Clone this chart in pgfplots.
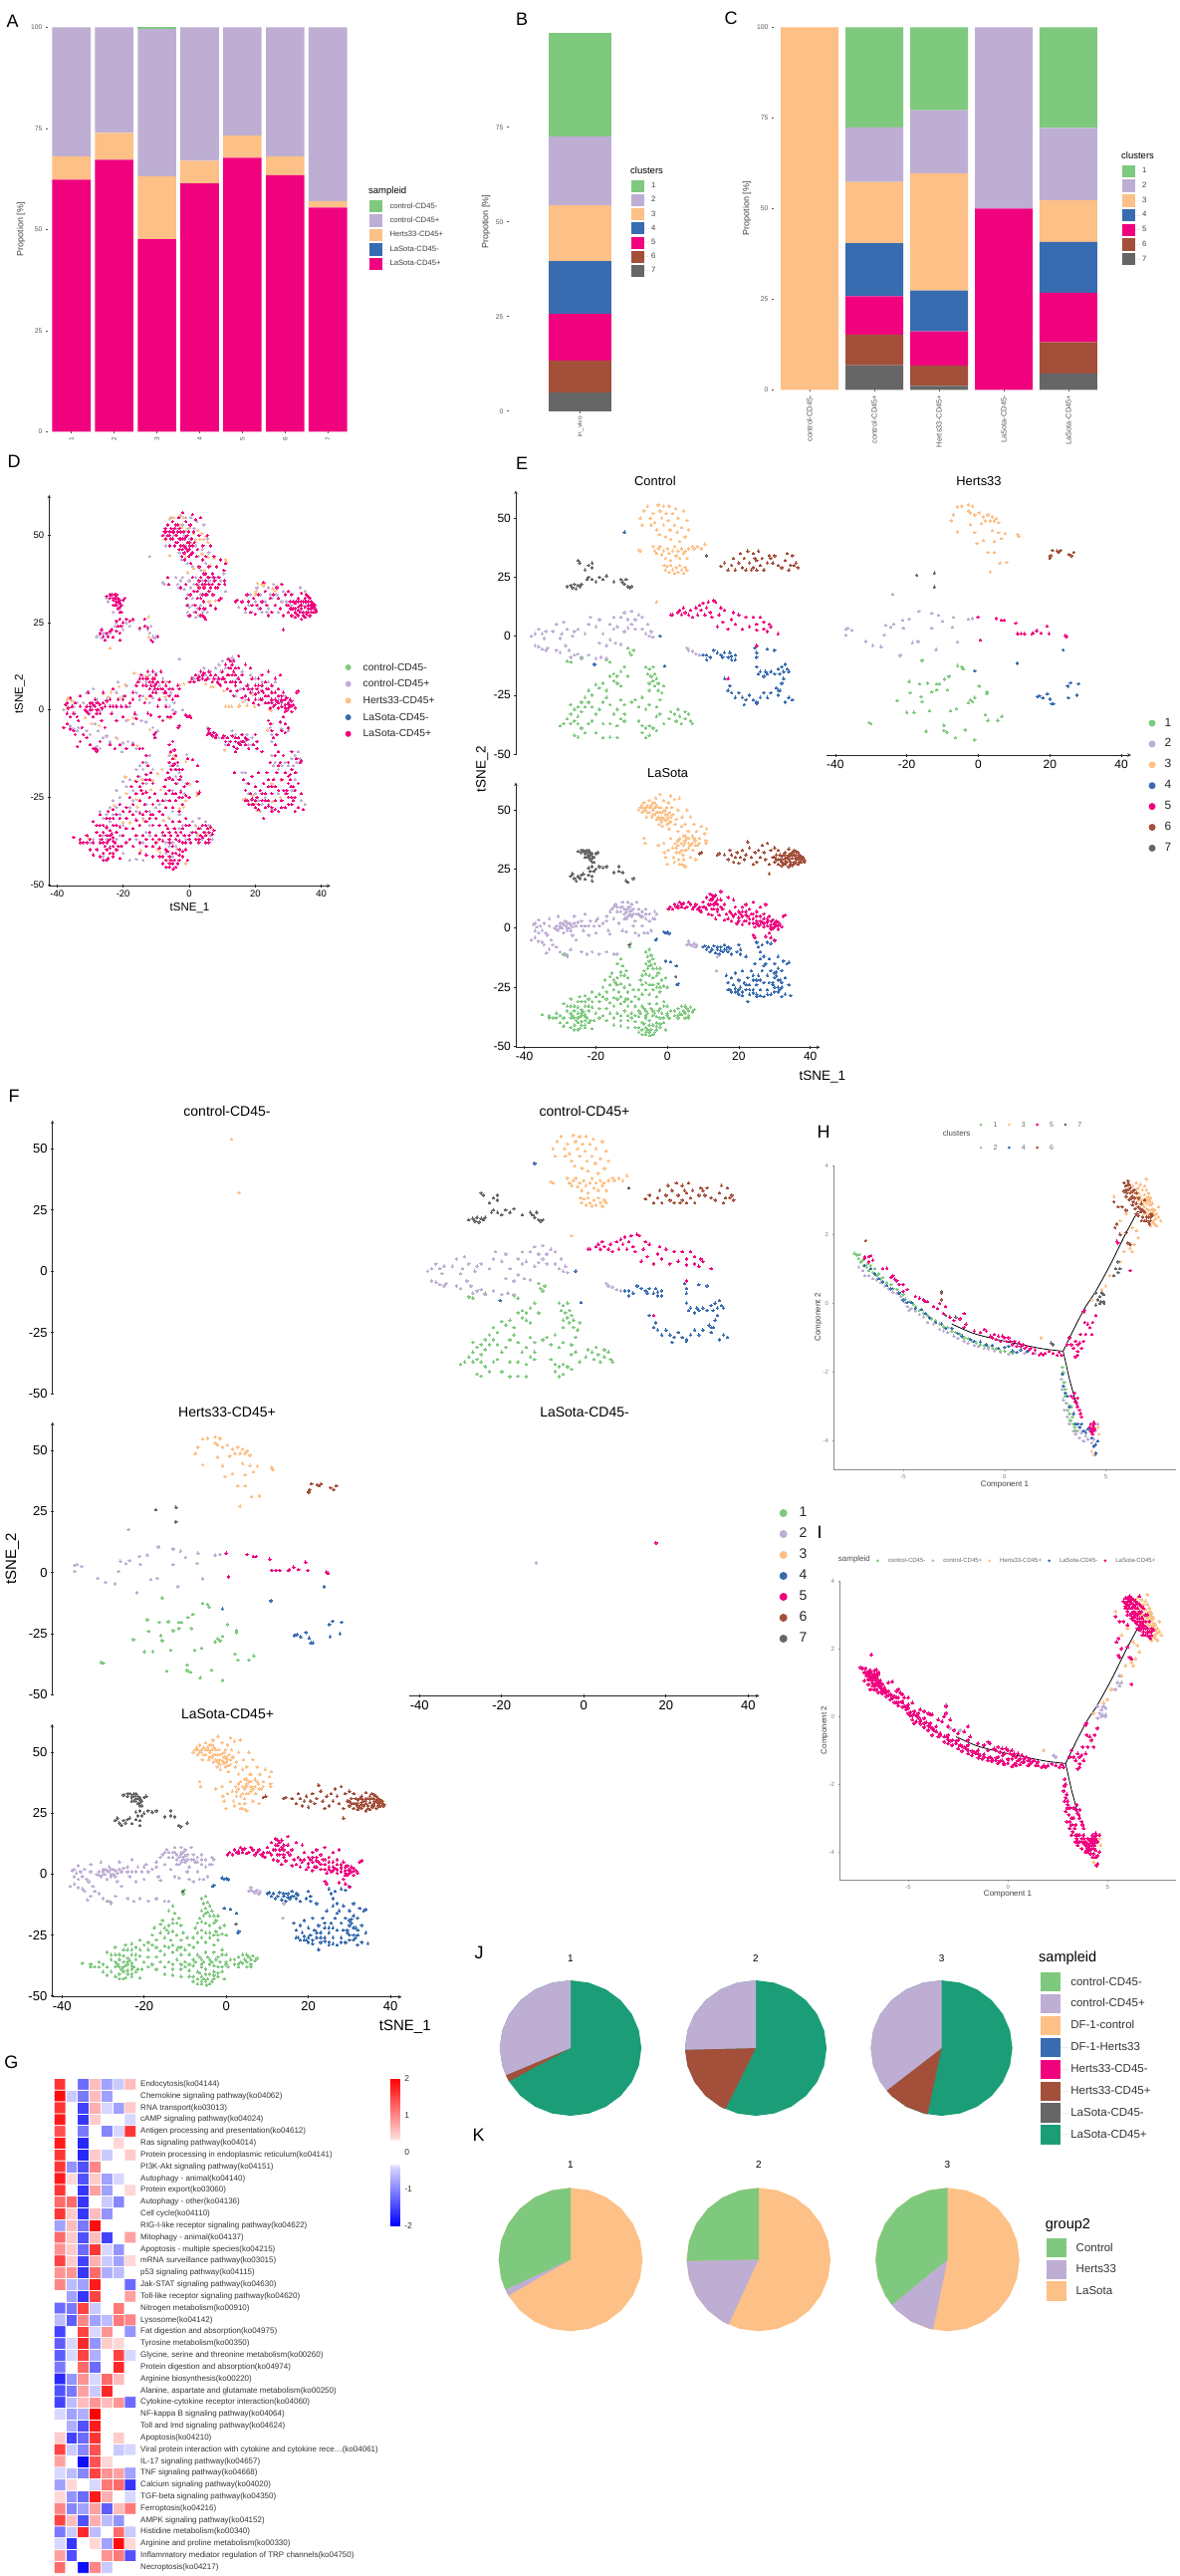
\documentclass[border=0pt]{standalone}
\usepackage{fontspec}
\setmainfont{Liberation Sans}
\usepackage{pgfplots}
\usepackage{pgfplotstable}
\pgfplotsset{compat=1.18}
\newcommand{\fs}[1]{\fontsize{#1}{#1}\selectfont}
\definecolor{c1}{HTML}{7FC97F}\definecolor{c2}{HTML}{BEAED4}\definecolor{c3}{HTML}{FDC086}
\definecolor{c4}{HTML}{386CB0}\definecolor{c5}{HTML}{F0027F}\definecolor{c6}{HTML}{A34F3A}
\definecolor{c7}{HTML}{666666}\definecolor{c8}{HTML}{1B9E77}
\pgfplotsset{
 /pgf/number format/assume math mode=true,
 pt/.style={only marks,mark=*,mark size=\msz,mark options={line width=0pt}},
 tsne/.style={scale only axis,xmin=-42.4,xmax=42.7,ymin=-50.4,ymax=61.6,anchor=north west,
  axis line style={-,line width=.6pt,black!85},tick style={black!85,line width=.6pt},tick align=outside,
  major tick length=3pt,xtick={-40,-20,0,20,40},ytick={-50,-25,0,25,50},clip=false},
 barax/.style={scale only axis,anchor=north west,ybar stacked,enlargelimits=false,ymin=0,ymax=100,
  axis line style={draw=none},tick style={gray!70!black,line width=.5pt},tick align=outside,major tick length=2pt,
  xtick pos=bottom,ytick pos=left,clip=false,
  y tick label style={font=\fs{6.8},text=black!65},
  x tick label style={font=\fs{6.5},text=black!65,rotate=90,anchor=east},
  ylabel style={font=\fs{9},text=black!75,anchor=center}},
 traj/.style={scale only axis,anchor=north west,ymin=-4.82,ymax=4,
  axis x line=bottom,axis y line=left,axis line style={-,line width=.4pt,black!45},tick style={black!40,line width=.4pt},
  tick align=outside,major tick length=1.5pt,xtick={-5,0,5},ytick={-4,-2,0,2,4},clip=false,
  tick label style={font=\fs{6},text=black!50},
  xlabel style={font=\fs{8},text=black!75,anchor=center},ylabel style={font=\fs{8},text=black!75,anchor=center}},
 pie/.style={scale only axis,hide axis,anchor=center,xmin=-1,xmax=1,ymin=-1,ymax=1,clip=false},
 leg/.style={scale only axis,hide axis,width=1pt,height=1pt,xmin=0,xmax=1,ymin=0,ymax=1,anchor=north west,clip=false,
  legend style={at={(0,1)},anchor=north west,draw=none,fill=none,inner sep=0pt,outer sep=0pt,legend cell align=left}},
 legsq/.style n args={3}{legend image code/.code={\fill[draw=none,##1] (0,-#2) rectangle (#1,#2);\path[draw=none] (0,0) -- (#3,0);}},
 legdot/.style n args={2}{legend image code/.code={\fill[draw=none,##1] (#1,0) circle (#1);\path[draw=none] (0,0) -- (#2,0);}},
}
\newcommand{\legax}[3]{\begin{axis}[leg,at={(#1pt,-#2pt)},#3]\addplot[draw=none,forget plot] coordinates {(0,0)};}
\newcommand{\li}[2]{\addlegendimage{#1}\addlegendentry{#2}}
\newcommand{\Tl}[4]{\node[anchor=west,inner sep=0pt,font=\fs{#3}] at (#1pt,-#2pt) {#4};}
\newcommand{\Tc}[4]{\node[anchor=center,inner sep=0pt,font=\fs{#3}] at (#1pt,-#2pt) {#4};}
%--- tSNE data: LaSota
\pgfplotstableread[row sep=\\]{x y\\
-6 -10\\-5.5 -12\\-5 -9\\-5 -14\\-4.5 -11.5\\-4 -13\\-6 -15\\-5.5 -17\\-5 -16\\-4.5 -15.5\\-4 -17\\-3.5 -15\\-3 -17\\-2.5 -19\\-2 -17\\-6.5 -18\\-7 -20\\-6 -19.5\\-5 -20\\-4 -21\\-3 -20\\-1.5 -22\\-.5 -21\\-7.5 -22\\-6 -23\\-5 -24\\-4 -24\\-3 -25\\-2.5 -23.5\\-1 -24.5\\0 -25\\-14 -15\\-13 -13\\-12.5 -16\\-11.5 -18\\-13 -18.5\\-12 -20\\-11 -21\\-14 -21\\-15.5 -19\\-16 -20.5\\-14.5 -23\\-13 -23.5\\-12 -25\\-10.5 -24\\-16 -24\\-17.5 -22\\-15 -26\\-13.5 -27\\-11 -27\\-9.5 -26\\-18 -25\\-17 -27\\-19 -28\\-21 -27\\-23 -28.5\\-24.5 -29\\-25 -31\\-27 -30\\-23 -31\\-21 -31\\-19 -31\\-17 -30\\-15 -29.5\\-13 -29\\-11.5 -30\\-9 -29\\-8 -30\\-7 -28\\-5 -28\\-3 -29\\-2 -27\\-1 -31\\-1 -33\\-3 -32\\-5 -32\\-7 -33\\-9 -33\\-11 -33\\-13 -32\\-15 -33\\-17 -34\\-19 -34\\-21 -33.5\\-23 -33\\-25 -33.5\\-27 -33\\-29 -32\\-28 -35\\-26 -35\\-24 -36\\-22 -35\\-20 -36\\-18 -37\\-16 -36\\-14 -36\\-12 -35\\-10 -36\\-8 -35\\-6 -35\\-4 -35\\-2 -34\\0 -33\\1 -35\\3 -34\\5 -33\\6 -35\\7.5 -34.5\\4 -36.5\\2 -37\\0 -37\\-2 -38\\-4 -37\\-6 -38\\-8 -37.5\\-10 -38\\-35 -36.5\\-33 -37\\-31 -36\\-29 -38\\-31 -38\\-33 -38\\-27 -38\\-25 -38\\-23 -37.5\\-30 -40\\-28 -40\\-26 -41\\-24 -41\\-27 -42\\-25 -43\\-23 -42\\-21 -42.5\\-29 -41.5\\-15 -41\\-13 -41.5\\-11 -42\\-9 -42\\-7 -43\\-5 -44\\-4 -45\\-6 -45\\-8 -44\\-3 -43\\-2 -42\\-1 -40\\-3 -40\\-5 -41\\-7 -40\\-9 -39.5\\-11 -39\\-13 -39\\-.5 -43\\-29 -11\\-28 -11.5\\-10.5 -8\\-10.2 -6.5\\-6 -37\\-5 -39\\-4 -41\\-6 -42\\-3 -37.5\\-24 -37\\-26 -38\\-24 -34.5\\-25 -40\\-23 -39\\5 -38\\6 -37\\3 -38\\-25 -36\\-24.5 -37.5\\-23.5 -35.5\\-23 -36.5\\-22.5 -38\\-22 -40\\-24 -39.5\\-25.5 -39\\-26.5 -37\\-21.5 -39\\-20.5 -39\\-23 -41\\-24.5 -42.5\\-26 -43\\-4.5 -43\\-5.5 -43\\-6 -44\\-4.8 -45.5\\-3.5 -44\\-7 -45\\-3 -41.5\\-2 -40.5\\-1 -38\\-8 -42\\-6.5 -40.5\\-1.5 -36\\-2.5 -35\\-3.5 -36\\-4.5 -34\\-5.5 -36\\-6.5 -34\\-7.5 -36\\0 -36\\.5 -38\\5.5 -34\\6.5 -33.5\\5 -36\\4.5 -35\\3.5 -36\\3 -37\\4 -33\\2 -35\\7 -35.5\\6 -38\\-11 -30\\-10 -31\\-12 -31\\-14 -30\\-16 -31.5\\-18 -29\\-20 -29\\-22 -30\\-22 -33\\-24 -31\\-26 -33\\-28 -33\\-30 -37\\-32 -38\\-27 -36\\-8 -26\\-7 -24\\-6 -26\\-4 -26\\-2 -25\\-13 -20\\-14 -24\\-15 -22\\-9 -37\\-11 -37\\-13 -37\\-15 -38\\-17 -39\\-19 -38\\
}\La
\pgfplotstableread[row sep=\\]{x y\\
-38 -5\\-37 -4\\-36 -5.5\\-35 -6\\-34.5 -7\\-37.5 1.5\\-37 2\\-36.5 .5\\-36 3.5\\-35.5 1\\-35 -1\\-34.5 2\\-34 -2\\-33.8 -10.5\\-33.5 -3\\-33 4\\-33 -9\\-32.5 -5\\-32 -7\\-31.5 0\\-31 1\\-31 -8\\-30.5 -1\\-30.5 5\\-30 2\\-30 -10\\-29.5 0\\-29 1.5\\-29 -2\\-28.5 3\\-28.5 -11\\-28 0\\-28 -12\\-27.5 2\\-27 -1\\-27 -9\\-26.5 -3\\-26 2\\-26 5\\-25.5 -5\\-25 2.5\\-24 3\\-24 -10\\-23.5 -1\\-23 1\\-23 6\\-22.5 -11\\-22 -3\\-21.5 3\\-21 -10\\-20.5 1\\-20 -2\\-19.5 4\\-19 -11\\-18 2\\-17 -10\\-17 5\\-16.5 -1\\-16 -2.5\\-15.5 8\\-15 4\\-15 -11\\-14.5 10\\-14 -11\\-14 7\\-13.5 2\\-13 9\\-12.5 -1\\-12.5 11\\-12 6\\-11.5 -1.5\\-11.5 4\\-11 9\\-11 11\\-10.5 7\\-10 5\\-10 10\\-9.5 8\\-9.5 1\\-9 3\\-9 -2\\-8.5 11\\-8 8\\-8 -3\\-7.5 5\\-7 7\\-7 1\\-6.5 -2\\-6 4\\-6 8\\-5.5 -2\\-5 6\\-5 3\\-4.5 -1\\-4 4\\-3.5 7\\-3.5 4\\-3 6\\5.5 -7\\6 -5.5\\6.5 -7\\7 -7.5\\7.5 -6.5\\8 -8\\8.2 -7.2\\6 -6.5\\13.8 -18\\14 -12\\-30 0\\-29.5 2\\-28.5 1\\-28 2\\-27.5 0\\-27 1.5\\-28 -1\\-26.5 .5\\-25.5 1\\-30 1\\-31 -.5\\-33 1\\-12 8\\-11.5 7\\-11 8\\-10.5 9\\-10 7.5\\-9.5 6\\-10.5 6\\-12.5 9\\-13 7\\-11 5\\-14 9\\-15 9\\-8.5 6\\-8 6\\-37 -1\\-36 -2\\-24 1\\-22 1\\-20 3\\-19 1\\-17 3\\-7 5\\-6 6\\-16 7\\-12 4\\
}\Lb
\pgfplotstableread[row sep=\\]{x y\\
-8 50\\-7.5 51\\-7 49\\-7.2 52\\-6.5 53\\-6 50\\-5.8 47\\-5.5 52\\-5 54\\-5 49\\-4.6 51\\-4.3 47\\-4 53\\-3.8 50\\-3.5 48\\-3.2 55\\-3 52\\-3 46\\-2.6 49\\-2.2 44\\-2 56.5\\-1.8 51\\-1.6 47\\-1.4 43\\-1 54\\-1 49.5\\-.7 46\\-.5 48\\-.2 51\\-.1 44\\.2 47\\.3 53\\.5 42\\.7 49\\1 45\\1 56\\1.3 51\\1.6 48\\2 54.5\\2.2 44\\2.5 46\\3 50\\3 41\\3.4 55\\4 43\\4.2 47\\4.5 39\\5 44\\5.5 50\\5.8 41\\6 36\\6.5 47\\7 39\\7.5 44\\7.8 37\\8.2 41\\8.5 35\\9 38\\9.5 43\\10.5 40\\11 42\\10.8 37\\10.8 36\\-6.5 38\\-6.2 36\\-2.5 35\\-1 36\\-.8 32\\-.5 30\\0 27\\.3 33\\1 38\\1.5 34\\1.8 30\\2 28\\2.3 36\\2.5 32\\3 35\\3.2 29\\3.5 38\\4 33\\4 27\\4.4 31\\4.8 36\\5 26\\5.3 33\\5.6 38\\6 34\\6.5 30\\7.2 33\\8 29\\-6 51\\-5.5 49\\-5 51\\-4.5 52\\-4 50\\-4 48\\-3.5 51\\-3 49\\-2.5 51\\-2.5 47\\-2 49\\-2 46\\-1.5 49\\-1.5 45\\-1 46.5\\-.5 45.5\\-.5 50\\0 48\\0 46\\.5 44.5\\1 47\\-3.5 53\\-6.5 50\\-7 51\\4.5 35\\5 33\\4 36\\4.5 29\\5 37\\6 38\\6.5 35\\7 36\\3.5 32\\3 37\\2.5 34\\3.5 27\\4.6 26.5\\8 35\\7.5 38\\9 36\\6 41\\5 39\\
}\Lc
\pgfplotstableread[row sep=\\]{x y\\
10 -8\\10.5 -7.5\\11 -9\\11.5 -8\\12 -10\\12.5 -9\\13 -7.5\\13.5 -10.5\\14 -9\\14.5 -11\\15 -8\\15.5 -10\\16 -7\\16.5 -9\\17 -10\\17.5 -8.5\\18 -11\\19.5 -10\\20 -7\\20.5 -9\\20.5 -11\\22 -12\\-1 -1.5\\-.5 -2\\0 -1.8\\.5 -2.2\\-3 -4.5\\-3.3 -5\\-.5 -14\\1 -14.3\\2.5 -16\\2.8 -24\\3.1 -23.5\\25 -6\\25.5 -8\\26 -10\\26.5 -7\\27 -12\\28 -6\\29 -6.5\\30 -5\\19 -25.5\\20 -28\\16.5 -20\\17 -23\\17.5 -26\\18 -21\\18.5 -24\\19 -19\\19.5 -27\\20 -22\\20.5 -25\\21 -18\\21 -28.5\\21.5 -23\\22 -26\\22.5 -21\\22.5 -31\\23 -24\\23 -28\\23.5 -18\\24 -22\\24 -26\\24.5 -15\\25 -24\\25 -28\\25.5 -20\\26 -26\\26 -13\\26.5 -18\\27 -23\\27 -29\\27.5 -15\\28 -20\\28 -26\\28.5 -13\\29 -18\\29 -28\\29.5 -23\\30 -15\\30 -25\\30.5 -20\\31 -27\\31 -12\\31.5 -22\\32 -18\\32 -25\\32.5 -14\\33 -21\\33 -28\\33.5 -15\\34 -24\\34.5 -28.5\\34 -14.5\\32 -29\\25 -29\\30 -19\\27 -16\\17 -26\\18 -27\\19 -27\\20 -26\\21 -27\\22 -24\\23 -26\\24 -27.5\\26 -28.5\\28 -28\\30 -27\\31 -25\\31.5 -26\\32 -23\\31 -22\\30 -21\\29.5 -24\\28.5 -23\\31 -17\\30.5 -18.5\\15 -9.5\\16 -9\\14 -8\\17 -8\\26 -22\\25 -22\\24 -20\\
}\Ld
\pgfplotstableread[row sep=\\]{x y\\
.3 8\\.8 9\\1.5 8\\2 10\\3 9.5\\3.5 11\\4 9\\4.5 10.5\\5 8.5\\5.5 9\\6 11\\6.5 10\\7 8\\7.5 9\\8 10\\8.5 8\\9 9\\9.5 7\\10 11\\10.5 9\\11 8\\11 13\\11.5 6\\12 14.5\\12 10\\12.5 5.5\\12.5 12\\13 8\\13.5 14\\13.5 4\\14 7\\14 10\\14.5 5.5\\15 15.5\\15 12\\15.5 8\\16 3.5\\16 10\\16.5 6\\17 13\\17 4\\17.5 7\\18 3\\18.5 12\\18.5 5\\19 9\\19.5 2\\20 7\\20 4.5\\20.5 6\\21 1.5\\21 9\\21.5 3\\22 7\\22 10\\22.5 5\\23 2\\23 8\\23.5 6\\24 4\\24 11\\24.5 .5\\25 7\\25 3\\25.5 1\\26 5\\26 9\\26.5 2.5\\27 .5\\27 6\\27.5 10\\28 3\\28 1\\28.5 5\\29 1.5\\29 -.5\\29.5 3.5\\30 2\\30 .5\\30.5 1\\31 2.5\\31 -.5\\31.5 1.5\\32 .5\\32.5 5\\33 5.5\\24 -3\\24.5 -4\\27.5 -3.5\\28.5 -2\\29 -4\\30 -5.2\\12.5 14\\13 13\\13.5 11\\12 12\\11.5 10\\12.5 8\\13 10\\14 12\\15 9\\25 2\\26 3\\27 2\\28 2.5\\29 3\\30 1.5\\31 1.2\\30.5 3\\29.5 -.2\\29 .5\\28 4\\27 4\\26 1.5\\24 2\\23 4\\22 3\\21 5\\20 3\\21 7\\19 6\\18 6\\22 5.5\\24 6\\25 5\\14 8\\10 9\\9 7.5\\4 10\\3 8.5\\2.5 9\\
}\Le
\pgfplotstableread[row sep=\\]{x y\\
14 31\\14.5 31.5\\16 31\\17 29\\17.5 33\\18 31\\18.5 28\\19 30\\19.5 32\\20 27.5\\20.5 30\\21 33\\21.5 29\\22 31\\22.5 36.5\\23 34\\23.5 30\\24 27\\24.5 32\\25 28\\25.5 33\\26 30\\26.5 35\\27 32\\27.5 29\\28 36\\28.5 27\\28.5 23\\29 33\\29.5 30\\30 28\\30 34\\30.5 31\\31 27\\31 33\\31.5 29\\32 30.5\\32.5 27.5\\33 32\\33 28.5\\33.5 30\\34 26\\34 33.5\\34.5 28\\34.5 31\\35 29.5\\35 26.5\\35.5 33\\35.5 31\\36 28\\36 30\\36.5 27\\36.5 32\\37 29\\37 31\\37.5 28\\37.5 30.5\\38 29\\38.3 28\\33 29.5\\32 26.5\\36 32.5\\9 31.5\\9.6 32\\31 29\\32 28\\33 27\\34 29\\35 31\\36 29\\37 28\\37.5 29.5\\36.5 30\\35.5 28\\34.5 27\\33.5 28\\32.5 31\\31.5 31\\30.5 29\\35 32\\34 31\\36 31\\38 30\\37 30\\33 31\\32 29\\30 30\\38.5 28.5\\34 30\\35.5 27.5\\
}\Lf
\pgfplotstableread[row sep=\\]{x y\\
-26.5 23\\-27 22\\-26 21\\-25.5 20\\-25 22\\-24.5 21\\-24 22.5\\-23.5 23\\-23 20.8\\-25 32.5\\-24 32\\-23.5 33\\-23 31.5\\-22.5 30\\-22 33\\-22 31\\-21.5 32\\-21 30.5\\-21.5 29\\-20.5 28\\-20 31.5\\-19.5 32\\-21 28\\-21 26\\-22 25.5\\-21.5 24\\-20.5 24\\-20 25\\-19 26\\-18 25.5\\-17 26\\-21 22\\-22 22.5\\-21 20\\-15 23.5\\-13.5 24\\-13.5 26\\-12.5 23.5\\-11.5 20\\-11 19.5\\-9.5 21\\2.4 -20.5\\-10.6 -7\\-23 32\\-22.5 32\\-22 32\\-21.5 31\\-21 31.5\\-23 30\\-22 30\\-21 29.5\\-20.5 30\\-24 33\\-22.5 33\\
}\Lg
%--- tSNE data: control
\pgfplotstableread[row sep=\\]{x y\\
-10 -8\\-10.5 -7\\-11 -5\\-9.5 -6\\-17 -10\\-16 -11\\-27 -11\\-28 -10.5\\-24 -9\\-6 -13\\-5.5 -16\\-5 -14\\-4.5 -17\\-4 -13\\-4 -19\\-3.5 -16\\-3 -18\\-3.5 -21\\-2.5 -20\\-2.5 -23\\-5 -20\\-5 -23\\-1.5 -24\\-1 -21\\-12 -13\\-13 -15\\-14 -17\\-15 -19\\-16 -17\\-14 -20\\-11 -17\\-13 -21\\-15 -16\\-18 -20\\-19 -22\\-17 -23\\-20 -20.5\\-22 -23\\-21 -25\\-22 -28\\-21 -30\\-23 -26\\-23 -30\\-24 -28\\-24 -32\\-25 -30\\-25 -34\\-26 -31\\-26 -36\\-27 -33\\-27 -29\\-28 -35\\-25 -37\\-24 -39\\-27 -37\\-29 -37\\-30 -38\\-23 -41\\-26 -42\\-25 -42.8\\-22 -37\\-21 -36\\-20 -33\\-19 -31\\-18 -28\\-17 -26\\-16 -29\\-15 -33\\-14 -31\\-13 -27\\-12 -29\\-18 -37\\-16 -37\\-14 -38\\-13 -35\\-12 -33\\-20 -41\\-18 -43\\-16 -42.8\\-14 -43\\-12 -36\\-10 -28\\-9 -27\\-8 -30\\-7 -26\\-6 -31\\-5 -29\\-8 -36\\-6 -39\\-7 -38\\-5 -38\\-4 -39\\-7 -41\\-5 -42\\-6 -43\\-3 -40\\-3 -34\\-1 -37\\-2 -33\\.5 -35\\1 -32\\2 -33\\2.5 -36\\3 -31\\3.5 -34\\4 -37\\5 -32\\5 -35\\6 -33\\6.5 -36\\7 -37\\-2 -27\\-3 -30\\
}\Ca
\pgfplotstableread[row sep=\\]{x y\\
-38 0\\-37 1\\-36 3\\-35 1\\-34.5 -1\\-34 2\\-33.5 -5\\-37 -4\\-36 -4.5\\-35 -5.5\\-34 -6\\-31 -6\\-32 2\\-31 5\\-30 -1\\-30 -7\\-29.5 1\\-29 6\\-28.5 -4\\-28 3\\-27.5 -6\\-27 -9\\-26.5 0\\-26 2\\-26 -8\\-25 -7.5\\-25 3\\-24 -9.5\\-23 1\\-22 5\\-22 -8\\-21.5 8\\-20 4\\-20 -9.5\\-19 7\\-19 -3\\-18.5 -9\\-18 1\\-17 -4\\-17 -9.5\\-16 5\\-16 -1.5\\-15 8\\-15 3\\-14.5 -3\\-14 4\\-13 -3.5\\-13 8\\-12 2\\-12 10\\-11 3.5\\-11 7\\-10 5\\-10 10.5\\-9 3\\-9 7\\-8 9\\-7 3\\-7 8\\-6 1\\-5.5 5\\-5 0\\-4.5 2\\-4 -.5\\5.5 -5\\6 -6\\7 -6.5\\8 -7.5\\9 -8\\
}\Cb
\pgfplotstableread[row sep=\\]{x y\\
-7.5 50\\-7 47\\-6.5 53\\-5.5 55\\-4.7 50\\-4.5 47\\-4 52\\-3.5 48\\-3 45\\-2.5 55.5\\-2 53\\-2.2 43\\-1.5 50\\-1 47\\-1 55\\-.5 42\\-.3 52\\.3 49\\.5 55\\.8 45\\1 41\\1.5 52\\2 47\\2.3 54\\2.8 44\\3 50\\3.5 40\\4 46\\4.5 53\\5 42\\5.5 49\\6 45\\7 38\\7.5 37\\8.5 38\\9.5 37\\10.5 39\\-8 36.5\\-7.5 36\\-4 38\\-3.5 36\\-3 35\\-2.5 37\\-2 38\\-1.5 34.5\\-1 36\\-.5 33\\0 37\\.5 35\\1 32\\1.5 36\\2 38\\2.5 34\\3 36\\3.5 33\\4 37\\4.5 35\\5 36\\5.5 33\\6 37\\-.8 30\\-.5 28\\0 29.5\\.5 27\\1 30\\1.5 28\\2 26.5\\2.5 29\\3 27\\3.5 30\\4 28\\4.5 26.5\\5 29\\5.5 28\\-3 14.5\\
}\Cc
\pgfplotstableread[row sep=\\]{x y\\
-12 44\\-2 0\\-20.4 -12\\-.7 -12.7\\10 -8\\11 -8\\11 -10\\12 -9\\13 -6\\14 -7\\15 -8\\15.5 -9\\16 -7\\17 -9\\17.5 -7\\18 -8.5\\18 -10\\19 -8\\19 -10\\24.5 -5\\25 -7\\25 -9\\28 -5.5\\30 -6\\25 -13\\25.5 -16\\26 -15\\27 -17\\27.5 -15\\28 -16\\29 -15\\30 -16\\31 -14\\31.5 -16\\32 -13\\32.5 -15\\33 -12\\33.5 -14\\34 -15\\32.5 -18\\32 -20\\31.5 -23\\31 -25\\30.5 -22\\16 -18\\17 -23\\17.5 -21\\19 -26\\20 -24\\21 -26\\21.5 -29\\22 -27\\23 -25\\24 -27\\25 -28\\26 -26\\27 -24\\28 -26\\29 -24\\31 -23\\34 -26\\35 -27\\33 -28\\18 -24\\25 -28.5\\
}\Cd
\pgfplotstableread[row sep=\\]{x y\\
1 9\\1.5 9\\3 10\\3.5 11\\4 9\\4.5 12\\5 10\\6 9\\6.5 11\\7 8\\8 12\\8.5 9\\9 13\\9.5 11\\10 14\\10.5 9\\11 12\\11.5 14.5\\12 10\\12.5 8\\13 15\\13.5 14.5\\14 4\\14.5 9\\15 12\\15.5 6\\16 11\\17 3\\18 7\\18.5 10\\19 5\\20 9\\21 3\\22 8\\23 4\\24 8\\25 5\\25 2.5\\26 8\\27 6\\27 3\\28 2\\28.5 5\\29 4\\31 1\\25 -4\\17 -18\\
}\Ce
\pgfplotstableread[row sep=\\]{x y\\
15 29.5\\16 31\\17 28\\18 30\\18.5 33\\19 28\\20 31\\20.5 35\\21 29\\21.5 33\\22 28\\22.5 36\\23 31\\23.5 28\\24 35\\24 29\\24.5 33\\25 28\\25 32\\25.5 36\\26 30\\26.5 33\\27 28\\28 31\\28.5 34\\29 33\\29.5 31\\30 34\\31 30\\32 29\\33 32\\33.5 35\\34 28\\34.5 30\\35 34\\35.5 30\\36 31\\36.5 29\\
}\Cf
\pgfplotstableread[row sep=\\]{x y\\
-28 21\\-27 21.5\\-26.5 20.5\\-26 22\\-25.5 20\\-25 21.5\\-24.5 21\\-24 22\\-24.5 31\\-25 32\\-23 28\\-22 30\\-21 31\\-21 29\\-22.5 24\\-22 25\\-21 24\\-20 23\\-19 25\\-18 24\\-17 25.5\\-15 23\\-13 24\\-12.5 23\\-12 22\\-11.5 24\\-11 21\\-10.5 20.5\\-10 21\\11 34\\
}\Cg
%--- tSNE data: Herts33
\pgfplotstableread[row sep=\\]{x y\\
-15.7 -10.3\\-5.8 -12.5\\-4.6 -13\\-4.3 -14\\-8.2 -17\\-9.4 -18.3\\-19.3 -19.2\\-16.4 -20.3\\-14.2 -20\\-11.6 -20.3\\-10.9 -20.3\\-8.6 -22.8\\-11.6 -22.8\\-13 -23.7\\-19 -24\\-16 -25.7\\-22.7 -27.3\\-15.7 -27.8\\-2.2 -27\\-1 -26\\-1.6 -27.8\\-2.8 -28.3\\.2 -21.2\\2.4 -24.5\\2.4 -23.7\\-30.5 -36.7\\-30 -37\\-20 -32.3\\-18 -32.3\\-13.6 -31.7\\-7.8 -31.7\\-6.1 -30.8\\2 -33.3\\2.7 -35.7\\5.4 -35.7\\6.6 -34\\-14.6 -40.3\\-9.6 -37.8\\-9.6 -40\\-8.8 -40.7\\-6.4 -43\\-3.7 -39.8\\-1 -44\\
}\Ha
\pgfplotstableread[row sep=\\]{x y\\
-37 3\\-36.5 3.3\\-35.3 2.5\\-37 .5\\-31.4 -2.3\\-29.5 -4\\-27.2 -4.5\\-26.3 .5\\-25.9 4.7\\-24.5 3.8\\-23.6 5\\-21.2 6.7\\-19.3 7.2\\-16.6 10.5\\-13 9.7\\-11.2 8.8\\-10 6.3\\-7 8\\-7.2 3.8\\-2.8 7.2\\-1.6 7.5\\-13 3.3\\-21 3.3\\-18.4 -2.8\\-16.9 -2.3\\-11.8 -5.7\\-5.8 -2.5\\-21.8 -8.2\\-23.9 17.7\\
}\Hb
\pgfplotstableread[row sep=\\]{x y\\
-7.6 48.8\\-7 51.3\\-5.8 54.7\\-4.6 55\\-2.8 55.5\\-1.6 55\\-2.8 53\\-2.2 52.2\\-1 51.3\\.2 52.2\\1.4 50.5\\2.7 51.3\\3.9 50.5\\5 49.7\\5.7 48\\4.5 48.8\\3.3 48.8\\2 48.8\\-5.8 44.2\\-2.2 47.2\\-1 43.8\\.8 47.7\\3.9 44.7\\5.7 43.8\\7.5 43.5\\6.5 41.3\\11 43\\11.3 42.2\\-.4 39.3\\1.4 40.5\\4.5 40\\2.7 35.5\\4.5 35.5\\6 31\\8 31.3\\3.3 27.2\\
}\Hc
\pgfplotstableread[row sep=\\]{x y\\
-1 -14.8\\10.8 -11.5\\23.7 -5.8\\16.5 -25.7\\17.1 -25.3\\18 -26.2\\19.3 -24.5\\20.1 -26.7\\21 -28.7\\20.5 -28.7\\25 -21.2\\25.8 -19.8\\28 -20.3\\25.2 -26.2\\27.6 -25\\
}\Hd
\pgfplotstableread[row sep=\\]{x y\\
-.1 8\\.5 -1.7\\5 7.5\\6.5 6.7\\7.2 6.7\\10.5 5.5\\11 1\\12 1\\12.9 1\\15 1\\15.3 1.3\\16.3 2.3\\17.5 1.3\\19.2 4.3\\19.8 1\\24.3 .2\\24.7 -.2\\
}\He
\pgfplotstableread[row sep=\\]{x y\\
20 33\\20.2 34\\20.7 36.3\\22 36\\23 36.3\\22.5 35.5\\25.3 34.7\\26 34\\26.7 35.5\\20 33.3\\
}\Hf
\pgfplotstableread[row sep=\\]{x y\\
-17.2 25.8\\-12.3 26.7\\-12.3 20.8\\
}\Hg
\newcommand{\setC}[7]{\addplot[pt,#1]table{\Ca};\addplot[pt,#2]table{\Cb};\addplot[pt,#3]table{\Cc};\addplot[pt,#4]table{\Cd};\addplot[pt,#5]table{\Ce};\addplot[pt,#6]table{\Cf};\addplot[pt,#7]table{\Cg};}
\newcommand{\setH}[7]{\addplot[pt,#1]table{\Ha};\addplot[pt,#2]table{\Hb};\addplot[pt,#3]table{\Hc};\addplot[pt,#4]table{\Hd};\addplot[pt,#5]table{\He};\addplot[pt,#6]table{\Hf};\addplot[pt,#7]table{\Hg};}
\newcommand{\setL}[7]{\addplot[pt,#1]table{\La};\addplot[pt,#2]table{\Lb};\addplot[pt,#3]table{\Lc};\addplot[pt,#4]table{\Ld};\addplot[pt,#5]table{\Le};\addplot[pt,#6]table{\Lf};\addplot[pt,#7]table{\Lg};}
\newcommand{\kols}{{c1}{c2}{c3}{c4}{c5}{c6}{c7}}
%--- pseudotime
\pgfplotstableread[row sep=\\]{x y\\
-7.4 1.45\\-7.3 1.4\\-7.2 1.3\\-7.15 1.42\\-7.1 1.2\\-7 1.25\\-6.95 1.1\\-6.9 1.32\\-6.8 1.05\\-6.75 1.15\\-6.7 .95\\-6.6 1.1\\-6.5 .9\\-6.4 1\\-6.3 .8\\-6.2 .85\\-6.1 .7\\-6 .75\\-5.8 .6\\-5.6 .55\\-5.5 .42\\-5.3 .4\\-5.2 .3\\-5 .25\\-4.9 .12\\-4.7 .05\\-4.5 -.02\\-4.4 -.1\\-4.2 -.2\\-4 -.28\\-3.8 -.35\\-3.6 -.45\\-3.4 -.5\\-3.2 -.6\\-3 -.68\\-2.8 -.7\\-2.6 -.8\\-2.4 -.85\\-2.2 -.9\\-2 -1\\-1.8 -1.02\\-1.6 -1.1\\-1.4 -1.15\\-1.2 -1.2\\-1 -1.22\\-.8 -1.25\\-.6 -1.3\\-.4 -1.32\\-.2 -1.38\\0 -1.38\\.3 -1.42\\.4 -1.45\\2.85 -1.85\\2.9 -2\\2.95 -2.3\\3 -2.5\\3 -2.7\\3.05 -2.9\\3.1 -3.1\\3.2 -3.2\\3.25 -3.4\\3.3 -3\\3.35 -3.3\\3.4 -3.5\\3.45 -3.6\\3.5 -3.7\\
}\Pa
\pgfplotstableread[row sep=\\]{x y\\
-7.2 1.05\\-7 .95\\-6.9 .8\\-6.7 .8\\-6.5 .72\\-6.3 .68\\-6.1 .6\\-5.9 .5\\-5.7 .42\\-5.5 .32\\-5.3 .28\\-5.1 .2\\-4.9 .02\\-4.8 -.1\\-4.7 -.2\\-4.6 -.15\\-4.4 -.22\\-4.2 -.32\\-4 -.4\\-3.8 -.55\\-3.5 -.6\\-3.2 -.75\\-3 -.8\\-2.8 -.85\\-2.5 -.95\\-2.3 -1.02\\-2 -1.1\\-1.8 -1.15\\-1.5 -1.22\\-1.3 -1.25\\-1 -1.3\\-.8 -1.32\\-.5 -1.38\\-.2 -1.42\\.2 -1.48\\1 -1.45\\1.5 -1.45\\2.8 -2.2\\2.85 -2.5\\2.9 -2.8\\2.95 -3.1\\3.1 -3.3\\3.2 -3.5\\3.4 -3.7\\3.5 -3.8\\3.6 -3.7\\3.7 -3.9\\3.8 -3.75\\3.9 -4\\4 -3.85\\4.1 -3.95\\4.2 -3.6\\4.3 -3.8\\4.4 -3.95\\4.5 -3.7\\4.6 -3.5\\4.3 -4.05\\4.2 -3.7\\
}\Pb
\pgfplotstableread[row sep=\\]{x y\\
-6.9 1.1\\-6.6 1\\-6.4 .85\\-6.2 .72\\-6 .62\\-5.8 .52\\-5.6 .42\\-5.2 .3\\-5 .1\\-4.8 .02\\-4.6 .02\\-4.4 -.15\\-4.1 -.18\\-3.9 -.3\\-3.7 -.42\\-3.4 -.55\\-3.1 -.6\\-2.9 -.72\\-2.6 -.72\\-2.3 -.88\\-2.1 -.95\\-1.7 -1.05\\-1.5 -1.1\\-1.2 -1.12\\-.9 -1.2\\-.6 -1.22\\-.3 -1.3\\0 -1.28\\.2 -1.25\\.4 -1.38\\.6 -1.42\\.8 -1.35\\1.1 -1.4\\2.85 -2.05\\2.9 -2.4\\3 -2.6\\3.1 -2.7\\3.2 -3\\3.4 -3.2\\3.5 -3.5\\3.6 -3.5\\3.7 -3.6\\3.8 -3.5\\3.9 -3.7\\4 -3.75\\4.1 -3.65\\4.3 -3.9\\4.4 -3.7\\4.4 -4.15\\4.5 -4.1\\4.5 -4.35\\4.45 -4.4\\4.6 -4\\
}\Pd
\pgfplotstableread[row sep=\\]{x y\\
-6.9 1.3\\-6.7 1.2\\-6.5 1.25\\-6.7 1.35\\-6.9 1.35\\-6.6 1.38\\-6 1\\-5.8 1.02\\-5.6 .75\\-5.5 .8\\-5.4 .7\\-5.3 .65\\-5.2 .55\\-5 .55\\-5 .35\\-4.8 .4\\-4.4 .2\\-4.2 .15\\-4 .1\\-3.9 .05\\-3.8 .05\\-3.5 -.1\\-3.3 -.15\\-3.2 0\\-3 -.3\\-2.9 -.1\\-2.7 -.4\\-2.5 -.5\\-2.2 -.45\\-2 -.3\\-2 -.7\\-1.9 -.6\\-1.5 -.8\\-1.2 -.85\\-1 -.75\\-.9 -.8\\-.7 -.95\\-.6 -1\\-.5 -.9\\-.4 -1.05\\-.3 -.95\\-.2 -1.1\\-.1 -.95\\0 -1\\.1 -1.1\\.2 -1\\.3 -1.1\\.4 -1.2\\.5 -1.1\\.6 -1.25\\.7 -1.15\\.8 -1.25\\.9 -1.2\\1 -1.3\\1.1 -1.25\\1.2 -1.35\\1.3 -1.3\\1.4 -1.45\\1.5 -1.35\\1.7 -1.5\\1.8 -1.45\\1.9 -1.5\\2 -1.45\\2.2 -1.4\\2.4 -1.45\\2.6 -1.5\\2.7 -1.42\\2.8 -1.5\\3.1 -1.2\\3.2 -1\\3.3 -1.2\\3.4 -1.3\\3.5 -1.1\\3.6 -1.2\\3.6 -1.4\\3.6 -1.5\\3.5 -1.55\\3.7 -1.15\\3.75 -.9\\3.8 -1.3\\3.9 -1.1\\4 -.9\\4.1 -.6\\4.2 -.7\\4.3 -.9\\4.35 -.55\\3.95 -.55\\3.9 -.25\\4.5 -.35\\3.95 -.2\\5.55 1.8\\5.6 1.75\\6.2 .95\\3.3 -2.7\\3.4 -2.75\\3.45 -2.6\\3.5 -2.85\\3.55 -2.9\\3.6 -3\\3.7 -3.1\\3.75 -3.2\\3.8 -3.3\\3.6 -2.75\\4.2 -3.6\\4.25 -3.5\\4.3 -3.65\\4.35 -3.55\\4.4 -3.7\\4.35 -3.8\\4.4 -3.45\\4.45 -3.65\\4.3 -3.75\\4.25 -3.7\\4.4 -3.6\\4.45 -3.5\\
}\Pe
\pgfplotstableread[row sep=\\]{x y\\
6.3 3.4\\6.5 3.5\\6.7 3.45\\6.9 3.4\\7 3.3\\7.1 3.2\\7.2 3.05\\7.3 2.9\\7.4 2.7\\7.5 2.6\\7.6 2.5\\7.35 2.4\\7.2 2.5\\7.1 2.7\\6.9 2.8\\6.8 3\\6.7 3.1\\6.6 3.2\\6.95 3\\7.05 2.95\\7.15 2.85\\7.25 2.7\\7 2.6\\6.9 2.6\\6.8 2.7\\6.7 2.9\\6.6 3\\7.4 2.3\\7.5 2.25\\7.7 2.4\\7.6 2.8\\6.99 3.6\\6.3 2.2\\6.5 2.1\\6.6 1.9\\6.4 1.7\\6.2 1.6\\6.3 1.5\\5.9 1.5\\5.7 1.2\\5.2 .8\\5 .5\\4.8 .4\\4.3 .1\\5.4 3.1\\5.7 2.4\\6 2.6\\1.8 -1\\4.3 -4.3\\4.4 -4.4\\4.6 -3.6\\4.65 -3.8\\6.4 3.2\\6.5 3.3\\6.6 3.35\\6.8 3.3\\6.9 3.15\\7 3.05\\7.1 3\\7.2 2.85\\7.3 2.75\\7.35 2.6\\7 2.9\\6.8 2.85\\6.7 3\\6.5 3.1\\7 2.75\\7.1 2.55\\7.25 2.55\\7.4 2.55\\7.45 2.45\\7.3 2.35\\7.2 2.25\\6.9 2.95\\7.1 3.1\\7.2 2.95\\7.3 2.65\\
}\Pc
\pgfplotstableread[row sep=\\]{x y\\
5.9 3.5\\6 3.4\\6.1 3.3\\6.2 3.2\\5.9 3.25\\6 3.1\\6.15 3\\6.3 3.1\\6.4 3.05\\6.5 2.9\\6.6 2.8\\6.7 2.65\\6.8 2.5\\6.9 2.4\\7 2.5\\7.1 2.35\\7.2 2.4\\6.4 3.3\\6.3 2.85\\6.1 3.55\\6.15 3.45\\6.5 2.6\\6.75 2.9\\6.9 3\\7.2 2.5\\7.3 2.55\\7.15 2.3\\5.4 2.95\\5.6 2.8\\5.8 2.8\\6 2.7\\5.55 2.3\\5.7 2\\5.45 2.2\\6 2.05\\6.1 1.75\\6.2 1.7\\-6.85 1.82\\-3.1 .3\\-3.1 .1\\6 3.3\\6.1 3.45\\6.2 3.35\\6.3 3.25\\6.25 3.05\\6.35 2.95\\6.5 3.2\\6.6 3.05\\6.7 2.75\\6.8 2.7\\6.9 2.65\\7 2.4\\7.1 2.5\\7.2 2.6\\6.05 3.2\\6.45 2.75\\6.6 2.55\\6.75 2.4\\
}\Pf
\pgfplotstableread[row sep=\\]{x y\\
4.5 .3\\4.7 .2\\4.8 .3\\4.9 .25\\4.6 .1\\4.75 .05\\4.9 .05\\4.5 -.05\\4.7 0\\4.9 0\\5.4 .8\\5.5 1\\5.6 .9\\5.7 1\\5.6 1.2\\-3.1 .35\\-2.9 -.35\\-2.4 -.4\\2.3 -1.15\\2.4 -1.2\\
}\Pg
\pgfplotstableread[row sep=\\]{x y\\
5.8 3.4\\6 3.5\\6.2 3.5\\6.4 3.4\\6.6 3.3\\6.8 3.2\\7 3\\5.9 3.2\\6.1 3.2\\6.3 3.1\\6.5 3\\6.7 2.9\\6.9 2.8\\7 2.6\\6.2 2.9\\6.4 2.8\\6.6 2.7\\6.8 2.6\\6.9 2.4\\6 3\\6.5 2.6\\6.3 3.3\\6.7 3.1\\6.6 3.55\\7.1 2.8\\-7.1 1.3\\-7 1.2\\-6.9 1.1\\-6.8 1\\-6.7 .9\\-6.6 .8\\-6.95 1.35\\-6.8 1.25\\-6.6 1.15\\-6.5 1.05\\-6.4 .9\\-6.3 .75\\-6.5 1.3\\-6.85 1.82\\4 -4\\3.9 -3.8\\3.8 -3.7\\4.1 -3.8\\4.2 -3.9\\5.9 3.35\\6.1 3.4\\6.3 3.45\\6.5 3.35\\6.7 3.25\\6.4 3.2\\6.2 3.05\\6.4 3\\6.6 2.9\\6.8 2.8\\6.5 2.8\\6.7 2.6\\6.9 2.6\\6.8 2.4\\6.6 3.1\\6.3 2.95\\-7 1.1\\-6.9 1.2\\-6.8 1.15\\-6.7 1.1\\-6.6 1\\-6.5 .95\\-6.4 1.05\\-6.3 .95\\-6.2 .8\\-6.1 .75\\-6.7 1.25\\-6.6 1.25\\-6.8 .9\\-5.9 .65\\-5.7 .6\\-5.5 .55\\-5.3 .45\\-5.1 .3\\-4.7 .15\\-4.5 .1\\-4.2 -.05\\-3.9 -.2\\-3.6 -.3\\3.9 -3.7\\4 -3.9\\4.1 -3.9\\4.2 -3.8\\4 -3.6\\4.3 -3.9\\3.8 -3.6\\3.95 -3.95\\4.15 -4.05\\4.25 -4.15\\-.5 -1.2\\0 -1.25\\.5 -1.3\\-1 -1\\-1.5 -1\\-2 -.85\\-2.5 -.7\\-3 -.55\\.25 -1.15\\-.25 -1.15\\.75 -1.35\\
}\Px
\newcommand{\trajline}{\addplot[black,line width=.8pt,smooth] coordinates {(-2.6,-.6)(-1.5,-.88)(0,-1.1)(1,-1.22)(2,-1.33)(2.89,-1.39)};
 \addplot[black,line width=.8pt,smooth] coordinates {(2.89,-1.39)(3.5,-.65)(4,-.1)(4.47,.32)(5.2,1.1)(5.95,1.99)(6.57,2.67)};
 \addplot[black,line width=.8pt] coordinates {(2.89,-1.39)(3.2,-2.2)(3.57,-2.99)};}
%--- pies
\pgfplotstableread[row sep=\\]{a r\\
90 1\\75 1\\60 1\\45 1\\30 1\\15 1\\0 1\\-15 1\\-30 1\\-45 1\\-60 1\\-75 1\\-90 1\\-105 1\\-120 1\\-135 1\\-150 1\\-165 1\\180 1\\165 1\\150 1\\135 1\\120 1\\105 1\\
}\disc
\newcommand{\pieax}[9]{% x y rx ry maincolor col2 coords2 col3 coords3
 \begin{axis}[pie,at={(#1pt,-#2pt)},width=#3pt,height=#4pt]
 \addplot[fill=#5,draw=none,data cs=polar] table[x=a,y=r]{\disc} -- cycle;
 \addplot[fill=#6,draw=none,data cs=polar] coordinates {#7} -- cycle;
 \addplot[fill=#8,draw=none,data cs=polar] coordinates {#9} -- cycle;
 \end{axis}}
\begin{document}
\begin{tikzpicture}[x=1pt,y=1pt]
\path[use as bounding box] (0,0) rectangle (1185,-2586);
\def\msz{1.1pt}
%=== A
\begin{axis}[barax,at={(48pt,-27.3pt)},width=304pt,height=406pt,xmin=.4476,xmax=7.53,bar width=38.6pt,xtick={1,...,7},ytick={0,25,50,75,100},
 ylabel={Propotion [\%]},ylabel style={at={(axis description cs:-.0888,.5)}}]
\addplot[fill=c5,draw=none] coordinates {(1,62.3)(2,67.2)(3,47.6)(4,61.4)(5,67.7)(6,63.4)(7,55.4)};
\addplot[fill=c3,draw=none] coordinates {(1,5.8)(2,6.7)(3,15.5)(4,5.6)(5,5.5)(6,4.7)(7,1.6)};
\addplot[fill=c2,draw=none] coordinates {(1,31.9)(2,26.1)(3,36.5)(4,33)(5,26.8)(6,31.9)(7,43)};
\addplot[fill=c1,draw=none] coordinates {(1,0)(2,0)(3,.4)(4,0)(5,0)(6,0)(7,0)};
\end{axis}
%=== B
\begin{axis}[barax,at={(511pt,-32.7pt)},width=107pt,height=380pt,xmin=.283,xmax=1.353,bar width=62.5pt,xtick={1},xticklabels={in\_vivo},ytick={0,25,50,75},
 ylabel={Propotion [\%]},ylabel style={at={(axis description cs:-.215,.5)}}]
\addplot[fill=c7,draw=none] coordinates {(1,5)};
\addplot[fill=c6,draw=none] coordinates {(1,8.3)};
\addplot[fill=c5,draw=none] coordinates {(1,12.4)};
\addplot[fill=c4,draw=none] coordinates {(1,14)};
\addplot[fill=c3,draw=none] coordinates {(1,14.7)};
\addplot[fill=c2,draw=none] coordinates {(1,18.1)};
\addplot[fill=c1,draw=none] coordinates {(1,27.5)};
\end{axis}
%=== C
\begin{axis}[barax,at={(777pt,-27.3pt)},width=329pt,height=364pt,xmin=.446,xmax=5.508,bar width=58pt,xtick={1,...,5},
 xticklabels={control-CD45-,control-CD45+,Herts33-CD45+,LaSota-CD45-,LaSota-CD45+},x tick label style={font=\fs{7.5}},ytick={0,25,50,75,100},
 ylabel={Propotion [\%]},ylabel style={at={(axis description cs:-.082,.5)}}]
\addplot[fill=c7,draw=none] coordinates {(1,0)(2,6.8)(3,1.1)(4,0)(5,4.5)};
\addplot[fill=c6,draw=none] coordinates {(1,0)(2,8.4)(3,5.6)(4,0)(5,8.7)};
\addplot[fill=c5,draw=none] coordinates {(1,0)(2,10.6)(3,9.4)(4,50)(5,13.6)};
\addplot[fill=c4,draw=none] coordinates {(1,0)(2,14.6)(3,11.3)(4,0)(5,14)};
\addplot[fill=c3,draw=none] coordinates {(1,100)(2,16.9)(3,32.3)(4,0)(5,11.5)};
\addplot[fill=c2,draw=none] coordinates {(1,0)(2,15.1)(3,17.4)(4,50)(5,19.9)};
\addplot[fill=c1,draw=none] coordinates {(1,0)(2,27.6)(3,22.9)(4,0)(5,27.8)};
\end{axis}
%=== bar legends
\legax{370.5}{201}{legsq={13pt}{6.2pt}{19pt},legend style={font=\fs{7.7},text=black!75,row sep=2pt}}
\li{fill=c1}{control-CD45-}\li{fill=c2}{control-CD45+}\li{fill=c3}{Herts33-CD45+}\li{fill=c4}{LaSota-CD45-}\li{fill=c5}{LaSota-CD45+}
\end{axis}
\legax{633.6}{180.7}{legsq={13pt}{6pt}{18.5pt},legend style={font=\fs{7.7},text=black!75,row sep=2.2pt}}
\li{fill=c1}{1}\li{fill=c2}{2}\li{fill=c3}{3}\li{fill=c4}{4}\li{fill=c5}{5}\li{fill=c6}{6}\li{fill=c7}{7}
\end{axis}
\legax{1126.5}{165.7}{legsq={13pt}{6.2pt}{18.5pt},legend style={font=\fs{7.7},text=black!75,row sep=2.3pt}}
\li{fill=c1}{1}\li{fill=c2}{2}\li{fill=c3}{3}\li{fill=c4}{4}\li{fill=c5}{5}\li{fill=c6}{6}\li{fill=c7}{7}
\end{axis}
\Tl{370}{192}{9.5}{sampleid}\Tl{633}{171}{9.5}{clusters}\Tl{1126}{156}{9.5}{clusters}
%=== D
\def\msz{1.15pt}
\begin{axis}[tsne,at={(49.3pt,-496.7pt)},width=282.4pt,height=392.6pt,axis x line=bottom,axis y line=left,tick label style={font=\fs{9.5}},
 xlabel={tSNE\_1},ylabel={tSNE\_2},xlabel style={font=\fs{11.5},at={(axis description cs:.5,-.0575)},anchor=center},ylabel style={font=\fs{11.5},at={(axis description cs:-.104,.49)},anchor=center}]
\setC{c2}{c2}{c2}{c2}{c2}{c2}{c2}
\setH{c3}{c3}{c3}{c3}{c3}{c3}{c3}
\setL{c5}{c5}{c5}{c5}{c5}{c5}{c5}
\end{axis}
\legax{346.7}{663}{legdot={3pt}{16pt},legend style={font=\fs{10.3},text=black!85,row sep=2.7pt,nodes={text height=8pt,text depth=2pt}}}
\li{c1}{control-CD45-}\li{c2}{control-CD45+}\li{c3}{Herts33-CD45+}\li{c4}{LaSota-CD45-}\li{c5}{LaSota-CD45+}
\end{axis}
%=== E
\def\msz{1.25pt}
\begin{axis}[tsne,at={(517.9pt,-492.5pt)},width=305.5pt,height=265.5pt,axis x line=none,axis y line=left,tick label style={font=\fs{12}}]
\expandafter\setC\kols
\end{axis}
\begin{axis}[tsne,at={(830.2pt,-492.5pt)},width=305.6pt,height=265.5pt,axis y line=none,axis x line=bottom,tick label style={font=\fs{12}}]
\expandafter\setH\kols
\end{axis}
\begin{axis}[tsne,at={(517.9pt,-785.5pt)},width=305.5pt,height=265.8pt,axis x line=bottom,axis y line=left,tick label style={font=\fs{12}},
 xlabel={tSNE\_1},ylabel={tSNE\_2},xlabel style={font=\fs{13.5},at={(axis description cs:1.008,-.111)},anchor=center},ylabel style={font=\fs{13.5},at={(axis description cs:-.11,1.05)},anchor=center}]
\expandafter\setL\kols
\end{axis}
\legax{1153.5}{718}{legdot={3.5pt}{14pt},legend style={font=\fs{12},text=black!85,row sep=4.9pt,nodes={text height=9pt,text depth=3pt}}}
\li{c1}{1}\li{c2}{2}\li{c3}{3}\li{c4}{4}\li{c5}{5}\li{c6}{6}\li{c7}{7}
\end{axis}
\Tc{657.9}{482.7}{12.9}{Control}\Tc{983}{482.7}{12.9}{Herts33}\Tc{670.6}{776.4}{12.9}{LaSota}
%=== F
\def\msz{1.3pt}
\begin{axis}[tsne,at={(52.7pt,-1124.7pt)},width=351pt,height=275.3pt,axis x line=none,axis y line=left,tick label style={font=\fs{13}}]
\addplot[pt,c3] coordinates {(1.2,54)(3,32)};
\end{axis}
\begin{axis}[tsne,at={(411.4pt,-1124.7pt)},width=351pt,height=275.3pt,axis x line=none,axis y line=none]
\expandafter\setC\kols
\end{axis}
\begin{axis}[tsne,at={(52.7pt,-1427.6pt)},width=351pt,height=274.8pt,axis x line=none,axis y line=left,tick label style={font=\fs{13}},
 ylabel={tSNE\_2},ylabel style={font=\fs{15},at={(axis description cs:-.115,.5)},anchor=center}]
\expandafter\setH\kols
\end{axis}
\begin{axis}[tsne,at={(411.4pt,-1427.6pt)},width=351pt,height=274.8pt,axis y line=none,axis x line=bottom,tick label style={font=\fs{13}}]
\addplot[pt,c5] coordinates {(17.6,12.2)};
\addplot[pt,c2] coordinates {(-11.6,4)};
\end{axis}
\begin{axis}[tsne,at={(52.3pt,-1730.7pt)},width=351pt,height=274pt,axis x line=bottom,axis y line=left,tick label style={font=\fs{13}},
 xlabel={tSNE\_1},xlabel style={font=\fs{15},at={(axis description cs:1.01,-.108)},anchor=center}]
\expandafter\setL\kols
\end{axis}
\legax{782.7}{1510}{legdot={4pt}{18pt},legend style={font=\fs{14},text=black!85,row sep=3pt,nodes={text height=10.5pt,text depth=3.5pt}}}
\li{c1}{1}\li{c2}{2}\li{c3}{3}\li{c4}{4}\li{c5}{5}\li{c6}{6}\li{c7}{7}
\end{axis}
\Tc{228}{1115.3}{14}{control-CD45-}\Tc{587}{1115.3}{14}{control-CD45+}\Tc{228}{1417.8}{14}{Herts33-CD45+}\Tc{587}{1417.8}{14}{LaSota-CD45-}\Tc{228.5}{1721}{14}{LaSota-CD45+}
%=== G heatmap
\begin{axis}[scale only axis,anchor=north west,at={(54.3pt,-2086.4pt)},width=82.4pt,height=496.9pt,y dir=reverse,xmin=-.5,xmax=6.5,ymin=-.5,ymax=41.5,
 axis line style={draw=none},xtick=\empty,ytick={0,...,41},tick style={draw=none},major tick length=0pt,yticklabel pos=right,clip=false,
 y tick label style={font=\fs{8},text=black!80,anchor=west,xshift=1pt},
 yticklabels={Endocytosis(ko04144),Chemokine signaling pathway(ko04062),RNA transport(ko03013),cAMP signaling pathway(ko04024),Antigen processing and presentation(ko04612),Ras signaling pathway(ko04014),Protein processing in endoplasmic reticulum(ko04141),PI3K-Akt signaling pathway(ko04151),Autophagy - animal(ko04140),Protein export(ko03060),Autophagy - other(ko04136),Cell cycle(ko04110),RIG-I-like receptor signaling pathway(ko04622),Mitophagy - animal(ko04137),Apoptosis - multiple species(ko04215),mRNA surveillance pathway(ko03015),p53 signaling pathway(ko04115),Jak-STAT signaling pathway(ko04630),Toll-like receptor signaling pathway(ko04620),Nitrogen metabolism(ko00910),Lysosome(ko04142),Fat digestion and absorption(ko04975),Tyrosine metabolism(ko00350),{Glycine, serine and threonine metabolism(ko00260)},Protein digestion and absorption(ko04974),Arginine biosynthesis(ko00220),{Alanine, aspartate and glutamate metabolism(ko00250)},Cytokine-cytokine receptor interaction(ko04060),NF-kappa B signaling pathway(ko04064),Toll and Imd signaling pathway(ko04624),Apoptosis(ko04210),Viral protein interaction with cytokine and cytokine rece\ldots(ko04061),IL-17 signaling pathway(ko04657),TNF signaling pathway(ko04668),Calcium signaling pathway(ko04020),TGF-beta signaling pathway(ko04350),Ferroptosis(ko04216),AMPK signaling pathway(ko04152),Histidine metabolism(ko00340),Arginine and proline metabolism(ko00330),Inflammatory mediator regulation of TRP channels(ko04750),Necroptosis(ko04217)},
 colormap={bwrgap}{rgb255(0cm)=(0,0,255) rgb255(1.6cm)=(215,215,255) rgb255(1.7cm)=(255,255,255) rgb255(2.3cm)=(255,255,255) rgb255(2.4cm)=(255,215,215) rgb255(4cm)=(255,0,0)},
 point meta min=-2,point meta max=2,colorbar,
 colorbar style={at={(parent axis.north east)},anchor=north west,xshift=246.6pt,yshift=0pt,scale only axis,width=10pt,height=148pt,y dir=normal,
  ytick={-2,-1,0,1,2},yticklabels={-2,-1,0,1,2},yticklabel pos=right,axis line style={draw=none},ytick style={draw=none},y tick label style={font=\fs{8.5},text=black!80,anchor=west,xshift=1pt}}]
\addplot[matrix plot,mesh/cols=7,point meta=explicit,draw=white,line width=.7pt] table[row sep=\\,header=false,x expr={mod(\coordindex+.5,7)-.5},y expr={floor((\coordindex+.5)/7)},meta index=0]{
1.6\\0\\-1.2\\.6\\-.8\\-.5\\.6\\
1.9\\-.5\\-1.1\\.6\\-.8\\0\\0\\
1.6\\0\\-1.5\\.7\\-.4\\-.8\\.5\\
1.8\\0\\-1.6\\.5\\0\\0\\-.4\\
1.4\\0\\-1.1\\0\\-1\\-.4\\1.6\\
1.8\\-.3\\-1.7\\0\\0\\.4\\0\\
1.6\\0\\-1.7\\.5\\-.5\\0\\.5\\
1.6\\-.9\\-1.4\\1\\0\\0\\0\\
1.8\\.4\\-1.4\\.5\\-.8\\-.4\\0\\
1.6\\-.15\\-1.6\\.8\\-.8\\0\\.4\\
1.2\\1.2\\-1.6\\0\\-.5\\-1\\.3\\
1.6\\.5\\-1.6\\.6\\-.9\\0\\.3\\
-.8\\.6\\-1.1\\1.9\\0\\-.3\\0\\
1.2\\.5\\-1.4\\.6\\-1.5\\0\\.8\\
.9\\.5\\-1.2\\1.6\\-.4\\-.9\\0\\
1.5\\.5\\-1.5\\.7\\-.5\\-.8\\.4\\
.9\\.9\\-1.6\\1.2\\-.7\\-.6\\0\\
1\\-.6\\-.8\\1.8\\0\\0\\-1.2\\
.3\\-.8\\-1.6\\1.5\\0\\0\\.8\\
-1.2\\-1.1\\1.5\\-.5\\0\\1.1\\-.3\\
-.6\\-1.3\\1\\-.8\\-.6\\1.1\\1\\
-1.5\\0\\1.5\\-.4\\.9\\0\\-.9\\
-1.3\\-.4\\1.7\\-.9\\.5\\.4\\0\\
-1.3\\-.4\\1.5\\-.7\\0\\1.5\\-.4\\
-1.1\\0\\1.2\\-1.2\\0\\1.7\\0\\
-1.7\\-.9\\.9\\-.4\\1.2\\.6\\.3\\
-1.4\\-1.1\\.8\\-.5\\1.7\\0\\0\\
-1.5\\-.6\\.6\\.9\\.6\\.9\\-1.2\\
-.4\\-.8\\-.7\\2\\0\\0\\0\\
.3\\-.7\\-1.4\\1.8\\0\\0\\0\\
.5\\-1.5\\-1.2\\1.6\\0\\.5\\0\\
1.5\\-.5\\-1\\1.4\\0\\-.5\\-.4\\
.8\\0\\-1.9\\1.4\\.4\\0\\0\\
-.4\\-.6\\-1\\1.5\\.9\\.8\\-.8\\
-.8\\.4\\0\\-.4\\1.1\\1.2\\-1.6\\
.4\\-.9\\-1.2\\1.8\\.7\\-.3\\-.4\\
1\\-1\\-.8\\.8\\-1.3\\.6\\1.1\\
1.5\\.6\\-1.4\\.7\\-.6\\-.9\\.08\\
-1.1\\-.5\\1.7\\-.6\\-.2\\1.2\\-.5\\
-.4\\-1.6\\0\\.4\\-.8\\1.9\\.4\\
.8\\-1.4\\0\\-.3\\.9\\1.1\\-1.4\\
1.2\\0\\-1.9\\1\\-.5\\0\\.3\\
};
\end{axis}
%=== H
\def\msz{1.2pt}
\begin{axis}[traj,at={(837pt,-1170pt)},width=344pt,height=305pt,xmin=-8.44,xmax=8.46,
 xlabel={Component 1},ylabel={Component 2},xlabel style={at={(axis description cs:.5,-.052)}},ylabel style={at={(axis description cs:-.044,.5)}}]
\trajline
\addplot[pt,c2] table{\Pb};
\addplot[pt,c1] table{\Pa};
\addplot[pt,c4] table{\Pd};
\addplot[pt,c3] table{\Pc};
\addplot[pt,c6] table{\Pf};
\addplot[pt,c7] table{\Pg};
\addplot[pt,c5] table{\Pe};
\end{axis}
\legax{983.5}{1123.5}{legdot={1.5pt}{12pt},legend columns=4,legend style={font=\fs{7},text=black!60,row sep=12pt,nodes={text height=5.5pt,text depth=1.5pt},/tikz/every even column/.append style={column sep=8.4pt}}}
\li{c1}{1}\li{c3}{3}\li{c5}{5}\li{c7}{7}\li{c2}{2}\li{c4}{4}\li{c6}{6}
\end{axis}
\Tl{946.7}{1138}{8}{\textcolor{black!70}{clusters}}
%=== I
\def\msz{1.5pt}
\begin{axis}[traj,at={(843pt,-1587pt)},width=338pt,height=300pt,xmin=-8.45,xmax=8.43,
 xlabel={Component 1},ylabel={Component 2},xlabel style={at={(axis description cs:.5,-.05)}},ylabel style={at={(axis description cs:-.044,.5)}}]
\trajline
\addplot[pt,c3] table{\Pc};
\addplot[pt,c2] table{\Pg};
\addplot[pt,c5] table{\Pa};
\addplot[pt,c5] table{\Pb};
\addplot[pt,c5] table{\Pd};
\addplot[pt,c5] table{\Pe};
\addplot[pt,c5] table{\Pf};
\addplot[pt,c5] table{\Px};
\end{axis}
\legax{880}{1561.5}{legdot={1.5pt}{10pt},legend columns=5,legend style={font=\fs{6},text=black!60,nodes={text height=5pt,text depth=1.5pt},/tikz/every even column/.append style={column sep=4pt}}}
\li{c1}{control-CD45-}\li{c2}{control-CD45+}\li{c3}{Herts33-CD45+}\li{c4}{LaSota-CD45-}\li{c5}{LaSota-CD45+}
\end{axis}
\Tl{841.7}{1565.7}{8}{\textcolor{black!70}{sampleid}}
%=== J
\pieax{573}{2056}{142.2}{136}{c8}{c6}{(0,0)(-150.6,1)(-156.3,1)}{c2}{(0,0)(203.7,1)(195,1)(180,1)(165,1)(150,1)(135,1)(120,1)(105,1)(90,1)}
\pieax{759}{2056}{142.2}{136}{c8}{c6}{(0,0)(-115.4,1)(-120,1)(-135,1)(-150,1)(-165,1)(-178.6,1)}{c2}{(0,0)(181.4,1)(165,1)(150,1)(135,1)(120,1)(105,1)(90,1)}
\pieax{945.6}{2056}{142.2}{136}{c8}{c6}{(0,0)(-101.5,1)(-120,1)(-135,1)(-141.1,1)}{c2}{(0,0)(218.9,1)(210,1)(195,1)(180,1)(165,1)(150,1)(135,1)(120,1)(105,1)(90,1)}
\Tc{573}{1965.7}{10}{1}\Tc{759}{1965.7}{10}{2}\Tc{945.6}{1965.7}{10}{3}
\legax{1044.6}{1980}{legsq={20.4pt}{9.6pt}{28.7pt},legend style={font=\fs{11.5},text=black!80,row sep=2.7pt}}
\li{fill=c1}{control-CD45-}\li{fill=c2}{control-CD45+}\li{fill=c3}{DF-1-control}\li{fill=c4}{DF-1-Herts33}\li{fill=c5}{Herts33-CD45-}\li{fill=c6}{Herts33-CD45+}\li{fill=c7}{LaSota-CD45-}\li{fill=c8}{LaSota-CD45+}
\end{axis}
\Tl{1043}{1965.7}{14.5}{sampleid}
%=== K
\pieax{573}{2268.3}{144.6}{144}{c3}{c2}{(0,0)(210.2,1)(204.8,1)}{c1}{(0,0)(204.8,1)(195,1)(180,1)(165,1)(150,1)(135,1)(120,1)(105,1)(90,1)}
\pieax{761.8}{2268.3}{144.6}{144}{c3}{c2}{(0,0)(245.2,1)(240,1)(225,1)(210,1)(195,1)(181.2,1)}{c1}{(0,0)(181.2,1)(165,1)(150,1)(135,1)(120,1)(105,1)(90,1)}
\pieax{951.5}{2268.3}{144.6}{144}{c3}{c2}{(0,0)(258.4,1)(240,1)(225,1)(219.3,1)}{c1}{(0,0)(219.3,1)(210,1)(195,1)(180,1)(165,1)(150,1)(135,1)(120,1)(105,1)(90,1)}
\Tc{573}{2173}{10}{1}\Tc{761.8}{2173}{10}{2}\Tc{951.5}{2173}{10}{3}
\legax{1051}{2247}{legsq={19.5pt}{9.7pt}{27.7pt},legend style={font=\fs{11.5},text=black!80,row sep=2.3pt}}
\li{fill=c1}{Control}\li{fill=c2}{Herts33}\li{fill=c3}{LaSota}
\end{axis}
\Tl{1049.6}{2234}{14.5}{group2}
%=== panel letters
\Tc{12.6}{21}{18}{A}\Tc{524}{19}{18}{B}\Tc{734}{18}{18}{C}\Tc{14}{463}{18}{D}\Tc{524}{465}{18}{E}\Tc{14}{1100}{18}{F}\Tc{11.5}{2070}{18}{G}\Tc{827}{1136}{18}{H}\Tc{823}{1538}{18}{I}\Tc{481}{1960}{18}{J}\Tc{480.5}{2143}{18}{K}
\end{tikzpicture}
\end{document}
